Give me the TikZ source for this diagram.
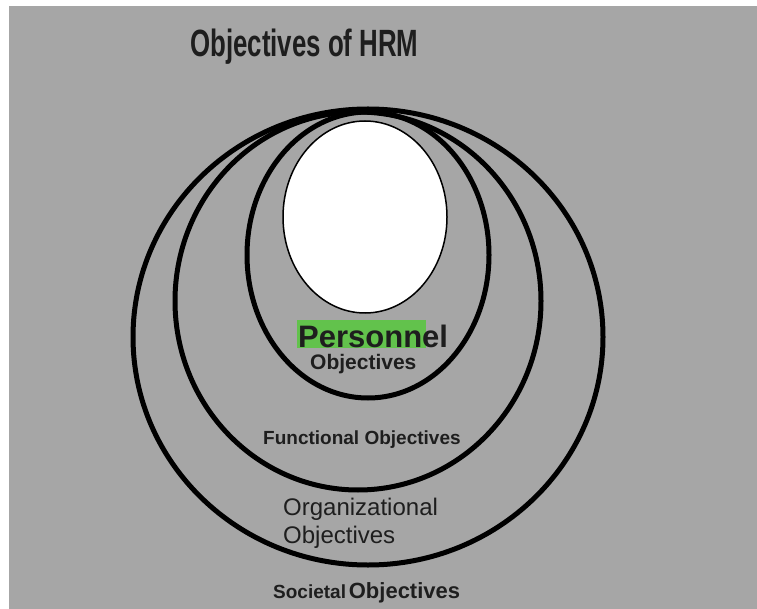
\documentclass[tikz,border=0pt]{standalone}
\usepackage{fontspec}
\setmainfont{Liberation Sans}
\newfontfamily\headfont{Liberation Sans}[FakeStretch=0.68]
\definecolor{slideGray}{HTML}{A6A6A6}
\definecolor{ink}{HTML}{1E1E1E}
\definecolor{markGreen}{HTML}{62C24C}

\begin{document}
\begin{tikzpicture}[x=1pt,y=-1pt]
\useasboundingbox (0,0) rectangle (757,609);
\fill[white] (0,0) rectangle (757,609);
\fill[slideGray] (9,6) rectangle (757,609);

\draw[line width=5pt] (368,337) ellipse [x radius=235, y radius=228];
\draw[line width=5pt] (358,301) ellipse [x radius=183, y radius=189];
\draw[line width=5pt] (368,255) ellipse [x radius=121, y radius=143];
\draw[fill=white, line width=1.5pt] (365,217) ellipse [x radius=82, y radius=96];

\fill[markGreen] (297,320) rectangle (426,348);

\node[
  anchor=base west,
  inner sep=0pt,
  text=ink,
  font=\fontsize{38}{44}\selectfont\headfont\bfseries
] (title) at (190,57) {Objectives of HRM};

\node[
  anchor=base west,
  inner sep=0pt,
  text=ink,
  font=\fontsize{31}{36}\selectfont\bfseries
] (personnel) at (298,347) {Personnel};

\node[
  anchor=base west,
  inner sep=0pt,
  text=ink,
  font=\fontsize{21}{25}\selectfont\bfseries
] (personnelObj) at (310,369) {Objectives};

\node[
  anchor=base west,
  inner sep=0pt,
  text=ink,
  font=\fontsize{19}{23}\selectfont\bfseries
] (functional) at (263,444) {Functional Objectives};

\node[
  anchor=base west,
  inner sep=0pt,
  text=ink,
  align=left,
  font=\fontsize{24}{28}\selectfont
] (organizational) at (283,543) {Organizational\\Objectives};

\node[
  anchor=base west,
  inner sep=0pt,
  text=ink,
  font=\bfseries
] (societal) at (273,598) {{\fontsize{19}{23}\selectfont Societal} {\fontsize{22}{26}\selectfont Objectives}};
\end{tikzpicture}
\end{document}
